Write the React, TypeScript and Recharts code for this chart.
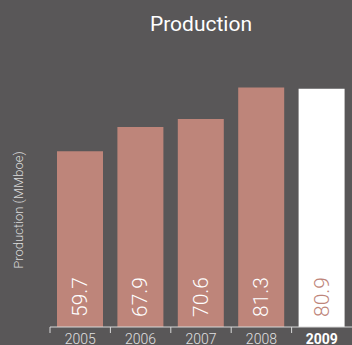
import { BarChart, Bar, XAxis, YAxis, Cell, LabelList } from 'recharts';

const years = ['2005', '2006', '2007', '2008', '2009'];
const production = [59.7, 67.9, 70.6, 81.3, 80.9];

const data = years.map((year, i) => ({ year, value: production[i] }));

const BG = '#595758';
const BAR = '#be857a';
const FONT = 'Roboto, "Liberation Sans", sans-serif';

// ticks sit on the band edges, labels in the middle
const YearTick = (props: any) => {
  const { x, y, payload } = props;
  const half = 30.2;
  const last = payload.value === years[years.length - 1];
  return (
    <g>
      <line x1={x - half} y1={y - 8} x2={x - half} y2={y - 2} stroke="#d8d8d8" strokeWidth={1} />
      <text
        x={x}
        y={y + 9}
        textAnchor="middle"
        fill={last ? '#ffffff' : '#e0e0e0'}
        fontSize={14}
        fontWeight={last ? 700 : 300}
        fontFamily={FONT}
      >
        {payload.value}
      </text>
    </g>
  );
};

const ValueLabel = (props: any) => {
  const { x, y, width, height, value, index } = props;
  const cx = x + width / 2;
  const by = y + height - 10;
  const last = index === production.length - 1;
  return (
    <text
      x={cx}
      y={by}
      transform={`rotate(-90 ${cx} ${by})`}
      textAnchor="start"
      dominantBaseline="central"
      fill={last ? BAR : '#ffffff'}
      fontSize={21}
      fontWeight={300}
      fontFamily={FONT}
    >
      {value.toFixed(1)}
    </text>
  );
};

export default function App() {
  return (
    <div style={{ position: 'fixed', left: 0, top: 0, width: 352, height: 345, background: BG, overflow: 'hidden' }}>
      <div
        style={{
          position: 'absolute',
          left: 50,
          width: 302,
          top: 12,
          textAlign: 'center',
          color: '#ffffff',
          fontFamily: FONT,
          fontSize: 21,
          fontWeight: 400,
        }}
      >
        Production
      </div>
      <div
        style={{
          position: 'absolute',
          left: 18,
          top: 210,
          transform: 'translate(-50%, -50%) rotate(-90deg)',
          whiteSpace: 'nowrap',
          color: '#dcdcdc',
          fontFamily: FONT,
          fontSize: 13,
          fontWeight: 300,
        }}
      >
        Production (MMboe)
      </div>
      <BarChart
        width={352}
        height={345}
        data={data}
        margin={{ top: 62, right: 0, bottom: 0, left: 50 }}
        barCategoryGap={7}
      >
        <XAxis
          dataKey="year"
          height={18}
          axisLine={{ stroke: '#d8d8d8' }}
          tickLine={false}
          tick={<YearTick />}
          interval={0}
        />
        <YAxis hide domain={[0, 90]} />
        <Bar dataKey="value" isAnimationActive={false}>
          {data.map((d, i) => (
            <Cell key={d.year} fill={i === data.length - 1 ? '#ffffff' : BAR} />
          ))}
          <LabelList dataKey="value" content={<ValueLabel />} />
        </Bar>
      </BarChart>
    </div>
  );
}
